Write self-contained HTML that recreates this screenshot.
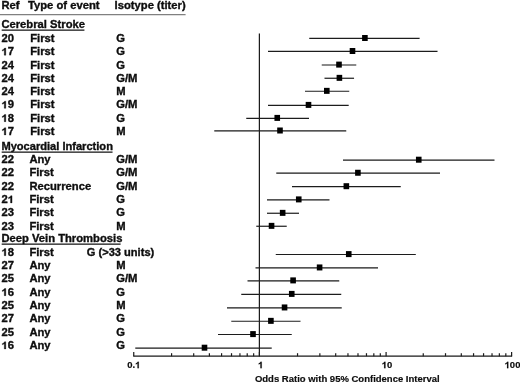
<!DOCTYPE html>
<html><head><meta charset="utf-8"><title>Forest plot</title>
<style>
html,body{margin:0;padding:0;background:#fff;}
body{width:520px;height:383px;overflow:hidden;font-family:"Liberation Sans",sans-serif;}
svg{display:block;}
text{font-family:"Liberation Sans",sans-serif;font-weight:bold;fill:#0a0a0a;stroke:#0a0a0a;stroke-width:0.3px;}
.t{font-size:10.0px;}
.a{font-size:9.5px;stroke-width:0.15px;}
.b{font-size:9.0px;stroke-width:0.15px;}
.l{stroke:#1c1c1c;stroke-width:1.2;fill:none;}
.s{fill:#000;}
</style></head><body>
<svg width="520" height="383" viewBox="0 0 520 383">
<defs><filter id="b" x="0" y="0" width="520" height="383" filterUnits="userSpaceOnUse"><feGaussianBlur stdDeviation="0.35"/></filter></defs>
<rect x="0" y="0" width="520" height="383" fill="#fff"/>
<g filter="url(#b)">

<text class="t" transform="translate(1.40,8.85) scale(1.123,1)">Ref</text>
<text class="t" transform="translate(28.00,8.85) scale(1.123,1)">Type of event</text>
<text class="t" transform="translate(114.60,8.85) scale(1.123,1)">Isotype (titer)</text>
<line x1="0" y1="14.6" x2="185.6" y2="14.6" stroke="#808080" stroke-width="1.3"/>
<text class="t" transform="translate(1.40,28.05) scale(1.123,1)">Cerebral Stroke</text>
<line x1="1.7" y1="30.20" x2="84.4" y2="30.20" stroke="#111" stroke-width="1.2"/>
<text class="t" transform="translate(1.40,149.90) scale(1.111,1)">Myocardial Infarction</text>
<line x1="1.7" y1="152.05" x2="112.5" y2="152.05" stroke="#111" stroke-width="1.2"/>
<text class="t" transform="translate(1.40,241.90) scale(1.123,1)">Deep Vein Thrombosis</text>
<line x1="1.7" y1="244.05" x2="120.6" y2="244.05" stroke="#111" stroke-width="1.2"/>
<text class="t" transform="translate(1.40,41.95) scale(1.123,1)">20</text>
<text class="t" transform="translate(30.20,41.95) scale(1.123,1)">First</text>
<text class="t" transform="translate(116.20,41.95) scale(1.123,1)">G</text>
<line class="l" x1="309.25" y1="38.40" x2="419.60" y2="38.40"/>
<rect class="s" x="362.10" y="35.00" width="5.60" height="6.00"/>
<path d="M806 0H525V1059Q371 915 162 846V1101Q272 1137 401 1237.5Q530 1338 578 1472H806Z" transform="translate(1.40,55.23) scale(0.00548,-0.00488)" fill="#0a0a0a" stroke="#0a0a0a" stroke-width="0.30" vector-effect="non-scaling-stroke"/><text class="t" transform="translate(7.64,55.23) scale(1.123,1)">7</text>
<text class="t" transform="translate(30.20,55.23) scale(1.123,1)">First</text>
<text class="t" transform="translate(116.20,55.23) scale(1.123,1)">G</text>
<line class="l" x1="268.00" y1="51.40" x2="437.50" y2="51.40"/>
<rect class="s" x="349.70" y="48.00" width="5.60" height="6.00"/>
<text class="t" transform="translate(1.40,68.51) scale(1.123,1)">24</text>
<text class="t" transform="translate(30.20,68.51) scale(1.123,1)">First</text>
<text class="t" transform="translate(116.20,68.51) scale(1.123,1)">G</text>
<line class="l" x1="321.75" y1="65.00" x2="356.25" y2="65.00"/>
<rect class="s" x="336.20" y="61.60" width="5.60" height="6.00"/>
<text class="t" transform="translate(1.40,81.79) scale(1.123,1)">24</text>
<text class="t" transform="translate(30.20,81.79) scale(1.123,1)">First</text>
<text class="t" transform="translate(116.20,81.79) scale(1.123,1)">G/M</text>
<line class="l" x1="324.50" y1="78.25" x2="354.05" y2="78.25"/>
<rect class="s" x="336.60" y="74.85" width="5.60" height="6.00"/>
<text class="t" transform="translate(1.40,95.07) scale(1.123,1)">24</text>
<text class="t" transform="translate(30.20,95.07) scale(1.123,1)">First</text>
<text class="t" transform="translate(116.20,95.07) scale(1.123,1)">M</text>
<line class="l" x1="305.00" y1="91.25" x2="349.25" y2="91.25"/>
<rect class="s" x="324.00" y="87.85" width="5.60" height="6.00"/>
<path d="M806 0H525V1059Q371 915 162 846V1101Q272 1137 401 1237.5Q530 1338 578 1472H806Z" transform="translate(1.40,108.35) scale(0.00548,-0.00488)" fill="#0a0a0a" stroke="#0a0a0a" stroke-width="0.30" vector-effect="non-scaling-stroke"/><text class="t" transform="translate(7.64,108.35) scale(1.123,1)">9</text>
<text class="t" transform="translate(30.20,108.35) scale(1.123,1)">First</text>
<text class="t" transform="translate(116.20,108.35) scale(1.123,1)">G/M</text>
<line class="l" x1="268.00" y1="105.30" x2="348.70" y2="105.30"/>
<rect class="s" x="305.70" y="101.90" width="5.60" height="6.00"/>
<path d="M806 0H525V1059Q371 915 162 846V1101Q272 1137 401 1237.5Q530 1338 578 1472H806Z" transform="translate(1.40,121.63) scale(0.00548,-0.00488)" fill="#0a0a0a" stroke="#0a0a0a" stroke-width="0.30" vector-effect="non-scaling-stroke"/><text class="t" transform="translate(7.64,121.63) scale(1.123,1)">8</text>
<text class="t" transform="translate(30.20,121.63) scale(1.123,1)">First</text>
<text class="t" transform="translate(116.20,121.63) scale(1.123,1)">G</text>
<line class="l" x1="246.25" y1="118.30" x2="309.00" y2="118.30"/>
<rect class="s" x="274.45" y="114.90" width="5.60" height="6.00"/>
<path d="M806 0H525V1059Q371 915 162 846V1101Q272 1137 401 1237.5Q530 1338 578 1472H806Z" transform="translate(1.40,134.91) scale(0.00548,-0.00488)" fill="#0a0a0a" stroke="#0a0a0a" stroke-width="0.30" vector-effect="non-scaling-stroke"/><text class="t" transform="translate(7.64,134.91) scale(1.123,1)">7</text>
<text class="t" transform="translate(30.20,134.91) scale(1.123,1)">First</text>
<text class="t" transform="translate(116.20,134.91) scale(1.123,1)">M</text>
<line class="l" x1="214.25" y1="130.90" x2="346.25" y2="130.90"/>
<rect class="s" x="277.20" y="127.50" width="5.60" height="6.00"/>
<text class="t" transform="translate(1.40,163.00) scale(1.123,1)">22</text>
<text class="t" transform="translate(29.40,163.00) scale(1.123,1)">Any</text>
<text class="t" transform="translate(116.20,163.00) scale(1.123,1)">G/M</text>
<line class="l" x1="343.00" y1="160.10" x2="494.50" y2="160.10"/>
<rect class="s" x="415.95" y="156.70" width="5.60" height="6.00"/>
<text class="t" transform="translate(1.40,176.30) scale(1.123,1)">22</text>
<text class="t" transform="translate(29.40,176.30) scale(1.123,1)">First</text>
<text class="t" transform="translate(116.20,176.30) scale(1.123,1)">G/M</text>
<line class="l" x1="276.25" y1="173.15" x2="440.00" y2="173.15"/>
<rect class="s" x="355.10" y="169.75" width="5.60" height="6.00"/>
<text class="t" transform="translate(1.40,189.60) scale(1.123,1)">22</text>
<text class="t" transform="translate(29.40,189.60) scale(1.123,1)">Recurrence</text>
<text class="t" transform="translate(116.20,189.60) scale(1.123,1)">G/M</text>
<line class="l" x1="292.00" y1="186.60" x2="400.75" y2="186.60"/>
<rect class="s" x="343.55" y="183.20" width="5.60" height="6.00"/>
<text class="t" transform="translate(1.40,202.90) scale(1.123,1)">2</text><path d="M806 0H525V1059Q371 915 162 846V1101Q272 1137 401 1237.5Q530 1338 578 1472H806Z" transform="translate(7.64,202.90) scale(0.00548,-0.00488)" fill="#0a0a0a" stroke="#0a0a0a" stroke-width="0.30" vector-effect="non-scaling-stroke"/>
<text class="t" transform="translate(29.40,202.90) scale(1.123,1)">First</text>
<text class="t" transform="translate(116.20,202.90) scale(1.123,1)">G</text>
<line class="l" x1="267.00" y1="199.80" x2="329.50" y2="199.80"/>
<rect class="s" x="295.95" y="196.40" width="5.60" height="6.00"/>
<text class="t" transform="translate(1.40,216.20) scale(1.123,1)">23</text>
<text class="t" transform="translate(29.40,216.20) scale(1.123,1)">First</text>
<text class="t" transform="translate(116.20,216.20) scale(1.123,1)">G</text>
<line class="l" x1="267.00" y1="213.25" x2="299.00" y2="213.25"/>
<rect class="s" x="279.85" y="209.85" width="5.60" height="6.00"/>
<text class="t" transform="translate(1.40,229.50) scale(1.123,1)">23</text>
<text class="t" transform="translate(29.40,229.50) scale(1.123,1)">First</text>
<text class="t" transform="translate(116.20,229.50) scale(1.123,1)">M</text>
<line class="l" x1="256.25" y1="226.25" x2="286.75" y2="226.25"/>
<rect class="s" x="268.75" y="222.85" width="5.60" height="6.00"/>
<path d="M806 0H525V1059Q371 915 162 846V1101Q272 1137 401 1237.5Q530 1338 578 1472H806Z" transform="translate(1.40,255.70) scale(0.00548,-0.00488)" fill="#0a0a0a" stroke="#0a0a0a" stroke-width="0.30" vector-effect="non-scaling-stroke"/><text class="t" transform="translate(7.64,255.70) scale(1.123,1)">8</text>
<text class="t" transform="translate(29.40,255.70) scale(1.123,1)">First</text>
<text class="t" transform="translate(86.80,255.70) scale(1.111,1)">G (&gt;33 units)</text>
<line class="l" x1="275.75" y1="254.50" x2="415.80" y2="254.50"/>
<rect class="s" x="345.95" y="251.10" width="5.60" height="6.00"/>
<text class="t" transform="translate(1.40,269.02) scale(1.123,1)">27</text>
<text class="t" transform="translate(29.40,269.02) scale(1.123,1)">Any</text>
<text class="t" transform="translate(116.20,269.02) scale(1.123,1)">M</text>
<line class="l" x1="255.50" y1="267.85" x2="378.00" y2="267.85"/>
<rect class="s" x="316.80" y="264.45" width="5.60" height="6.00"/>
<text class="t" transform="translate(1.40,282.34) scale(1.123,1)">25</text>
<text class="t" transform="translate(29.40,282.34) scale(1.123,1)">Any</text>
<text class="t" transform="translate(116.20,282.34) scale(1.123,1)">G/M</text>
<line class="l" x1="247.50" y1="280.80" x2="339.25" y2="280.80"/>
<rect class="s" x="290.30" y="277.40" width="5.60" height="6.00"/>
<path d="M806 0H525V1059Q371 915 162 846V1101Q272 1137 401 1237.5Q530 1338 578 1472H806Z" transform="translate(1.40,295.66) scale(0.00548,-0.00488)" fill="#0a0a0a" stroke="#0a0a0a" stroke-width="0.30" vector-effect="non-scaling-stroke"/><text class="t" transform="translate(7.64,295.66) scale(1.123,1)">6</text>
<text class="t" transform="translate(29.40,295.66) scale(1.123,1)">Any</text>
<text class="t" transform="translate(116.20,295.66) scale(1.123,1)">G</text>
<line class="l" x1="241.25" y1="294.30" x2="341.25" y2="294.30"/>
<rect class="s" x="288.95" y="290.90" width="5.60" height="6.00"/>
<text class="t" transform="translate(1.40,308.98) scale(1.123,1)">25</text>
<text class="t" transform="translate(29.40,308.98) scale(1.123,1)">Any</text>
<text class="t" transform="translate(116.20,308.98) scale(1.123,1)">M</text>
<line class="l" x1="227.00" y1="307.85" x2="341.75" y2="307.85"/>
<rect class="s" x="281.75" y="304.45" width="5.60" height="6.00"/>
<text class="t" transform="translate(1.40,322.30) scale(1.123,1)">27</text>
<text class="t" transform="translate(29.40,322.30) scale(1.123,1)">Any</text>
<text class="t" transform="translate(116.20,322.30) scale(1.123,1)">G</text>
<line class="l" x1="231.25" y1="321.25" x2="300.50" y2="321.25"/>
<rect class="s" x="268.10" y="317.85" width="5.60" height="6.00"/>
<text class="t" transform="translate(1.40,335.62) scale(1.123,1)">25</text>
<text class="t" transform="translate(29.40,335.62) scale(1.123,1)">Any</text>
<text class="t" transform="translate(116.20,335.62) scale(1.123,1)">G</text>
<line class="l" x1="218.00" y1="334.50" x2="291.75" y2="334.50"/>
<rect class="s" x="250.20" y="331.10" width="5.60" height="6.00"/>
<path d="M806 0H525V1059Q371 915 162 846V1101Q272 1137 401 1237.5Q530 1338 578 1472H806Z" transform="translate(1.40,348.94) scale(0.00548,-0.00488)" fill="#0a0a0a" stroke="#0a0a0a" stroke-width="0.30" vector-effect="non-scaling-stroke"/><text class="t" transform="translate(7.64,348.94) scale(1.123,1)">6</text>
<text class="t" transform="translate(29.40,348.94) scale(1.123,1)">Any</text>
<text class="t" transform="translate(116.20,348.94) scale(1.123,1)">G</text>
<line class="l" x1="135.25" y1="348.10" x2="271.75" y2="348.10"/>
<rect class="s" x="201.70" y="344.70" width="5.60" height="6.00"/>
<line class="l" x1="259.4" y1="33.6" x2="259.4" y2="356.20"/>
<line class="l" x1="133.25" y1="356.20" x2="512.10" y2="356.20"/>
<line class="l" x1="133.75" y1="356.20" x2="133.75" y2="351.90"/>
<line class="l" x1="171.57" y1="356.20" x2="171.57" y2="353.20"/>
<line class="l" x1="193.70" y1="356.20" x2="193.70" y2="353.20"/>
<line class="l" x1="209.40" y1="356.20" x2="209.40" y2="353.20"/>
<line class="l" x1="221.58" y1="356.20" x2="221.58" y2="353.20"/>
<line class="l" x1="231.52" y1="356.20" x2="231.52" y2="353.20"/>
<line class="l" x1="239.94" y1="356.20" x2="239.94" y2="353.20"/>
<line class="l" x1="247.22" y1="356.20" x2="247.22" y2="353.20"/>
<line class="l" x1="253.65" y1="356.20" x2="253.65" y2="353.20"/>
<line class="l" x1="259.40" y1="356.20" x2="259.40" y2="351.90"/>
<line class="l" x1="297.54" y1="356.20" x2="297.54" y2="353.20"/>
<line class="l" x1="319.85" y1="356.20" x2="319.85" y2="353.20"/>
<line class="l" x1="335.68" y1="356.20" x2="335.68" y2="353.20"/>
<line class="l" x1="347.96" y1="356.20" x2="347.96" y2="353.20"/>
<line class="l" x1="357.99" y1="356.20" x2="357.99" y2="353.20"/>
<line class="l" x1="366.47" y1="356.20" x2="366.47" y2="353.20"/>
<line class="l" x1="373.82" y1="356.20" x2="373.82" y2="353.20"/>
<line class="l" x1="380.30" y1="356.20" x2="380.30" y2="353.20"/>
<line class="l" x1="386.10" y1="356.20" x2="386.10" y2="351.90"/>
<line class="l" x1="423.25" y1="356.20" x2="423.25" y2="353.20"/>
<line class="l" x1="445.51" y1="356.20" x2="445.51" y2="353.20"/>
<line class="l" x1="461.30" y1="356.20" x2="461.30" y2="353.20"/>
<line class="l" x1="473.55" y1="356.20" x2="473.55" y2="353.20"/>
<line class="l" x1="483.56" y1="356.20" x2="483.56" y2="353.20"/>
<line class="l" x1="492.02" y1="356.20" x2="492.02" y2="353.20"/>
<line class="l" x1="499.35" y1="356.20" x2="499.35" y2="353.20"/>
<line class="l" x1="505.82" y1="356.20" x2="505.82" y2="353.20"/>
<line class="l" x1="511.60" y1="356.20" x2="511.60" y2="351.90"/>
<text class="b" transform="translate(127.15,368.20) scale(1.055,1)">0</text><text class="b" transform="translate(132.43,368.20) scale(1.055,1)">.</text><path d="M806 0H525V1059Q371 915 162 846V1101Q272 1137 401 1237.5Q530 1338 578 1472H806Z" transform="translate(135.07,368.20) scale(0.00464,-0.00439)" fill="#0a0a0a" stroke="#0a0a0a" stroke-width="0.15" vector-effect="non-scaling-stroke"/>
<path d="M806 0H525V1059Q371 915 162 846V1101Q272 1137 401 1237.5Q530 1338 578 1472H806Z" transform="translate(257.96,368.20) scale(0.00464,-0.00439)" fill="#0a0a0a" stroke="#0a0a0a" stroke-width="0.15" vector-effect="non-scaling-stroke"/>
<path d="M806 0H525V1059Q371 915 162 846V1101Q272 1137 401 1237.5Q530 1338 578 1472H806Z" transform="translate(381.72,368.20) scale(0.00464,-0.00439)" fill="#0a0a0a" stroke="#0a0a0a" stroke-width="0.15" vector-effect="non-scaling-stroke"/><text class="b" transform="translate(387.00,368.20) scale(1.055,1)">0</text>
<path d="M806 0H525V1059Q371 915 162 846V1101Q272 1137 401 1237.5Q530 1338 578 1472H806Z" transform="translate(504.58,368.20) scale(0.00464,-0.00439)" fill="#0a0a0a" stroke="#0a0a0a" stroke-width="0.15" vector-effect="non-scaling-stroke"/><text class="b" transform="translate(509.86,368.20) scale(1.055,1)">0</text><text class="b" transform="translate(515.14,368.20) scale(1.055,1)">0</text>
<text class="a" transform="translate(254.90,381.50) scale(1.000,1)">Odds Ratio with 95% Confidence Interval</text>
</g></svg></body></html>
